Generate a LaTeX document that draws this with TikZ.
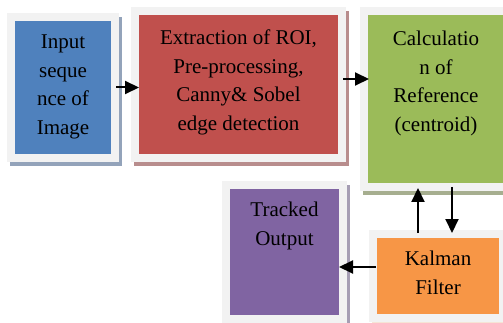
\documentclass[tikz,border=0pt]{standalone}
\usepackage{fontspec}
\setmainfont{Liberation Serif}
\usepackage{tikz}
\usetikzlibrary{arrows.meta, positioning, backgrounds}

\definecolor{inputblue}{HTML}{4F81BD}
\definecolor{roired}{HTML}{C0504D}
\definecolor{calcgreen}{HTML}{9BBB59}
\definecolor{trackpurple}{HTML}{8064A2}
\definecolor{kalmanorange}{HTML}{F79646}
\definecolor{framegray}{HTML}{F2F2F2}
\definecolor{shinput}{HTML}{93A3BA}
\definecolor{shroi}{HTML}{B88D8D}
\definecolor{shcalc}{HTML}{A6AE8F}
\definecolor{shtracked}{HTML}{A69EB4}
\definecolor{shkalman}{HTML}{F6E4D6}

\begin{document}
\begin{tikzpicture}[
  x=1pt, y=-1pt,
  box/.style={inner sep=0pt, outer sep=0pt},
  txt/.style={font=\fontsize{21}{28.5}\selectfont, align=center, inner sep=0pt},
  arr/.style={-{Triangle[length=14pt, width=13pt]}, line width=2pt}
]
  \useasboundingbox (0,0) rectangle (503,323);

  % coloured blocks
  \node[box, fill=inputblue, minimum width=96pt, minimum height=133pt] (input) at (63,87.5) {};
  \node[box, fill=roired, minimum width=199pt, minimum height=139pt] (roi) at (238.5,84.5) {};
  \node[box, fill=calcgreen, minimum width=136pt, minimum height=168pt] (calc) at (436,99) {};
  \node[box, fill=trackpurple, minimum width=109pt, minimum height=126pt] (tracked) at (284.5,252) {};
  \node[box, fill=kalmanorange, minimum width=122pt, minimum height=76pt] (kalman) at (438,276) {};

  % texts, top aligned
  \node[txt, below=14pt of input.north] (inputtxt) {Input\\seque\\nce of\\Image};
  \node[txt, below=15pt of roi.north] (roitxt) {Extraction of ROI,\\Pre-processing,\\Canny\& Sobel\\edge detection};
  \node[txt, below=16pt of calc.north] (calctxt) {Calculatio\\n of\\Reference\\(centroid)};
  \node[txt, below=13pt of tracked.north] (trackedtxt) {Tracked\\Output};
  \node[txt, below=13pt of kalman.north] (kalmantxt) {Kalman\\Filter};

  \draw[arr, shorten <=5pt] (input.east) -- (input.east -| roi.west);
  \draw[arr, shorten <=5pt, shorten >=-1pt] ([yshift=5.5pt]roi.east) -- ([yshift=5.5pt]roi.east -| calc.west);
  \draw[arr, shorten <=5pt, shorten >=5pt] ([xshift=-20pt]kalman.north) -- ([xshift=-20pt]kalman.north |- calc.south);
  \draw[arr, shorten <=4pt, shorten >=5pt] ([xshift=14pt]kalman.north |- calc.south) -- ([xshift=14pt]kalman.north);
  \draw[arr, shorten <=1pt] ([yshift=9pt]kalman.west) -- ([yshift=9pt]kalman.west -| tracked.east);

  \begin{scope}[on background layer]
    \foreach \n in {input, roi, calc, tracked, kalman}{
      \fill[sh\n] ([shift={(-5pt,-12pt)}]\n.south west) rectangle ([shift={(11pt,4pt)}]\n.north east);
      \fill[framegray] ([shift={(-8pt,-8pt)}]\n.south west) rectangle ([shift={(8pt,8pt)}]\n.north east);
    }
  \end{scope}
\end{tikzpicture}
\end{document}
